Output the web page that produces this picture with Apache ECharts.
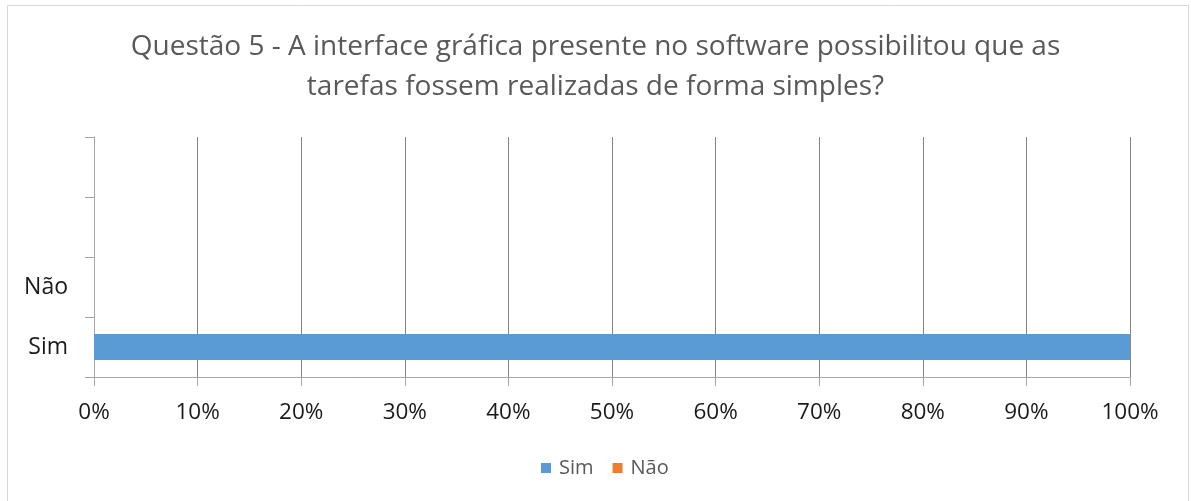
<!DOCTYPE html>
<html>
<head>
<meta charset="utf-8">
<script src="https://cdn.jsdelivr.net/npm/echarts@6/dist/echarts.min.js"></script>
<style>
html,body{margin:0;padding:0;background:#fff;}
#c{width:1191px;height:501px;}
</style>
</head>
<body>
<div id="c"></div>
<script>
const categories = ['Sim', 'Não', '', ''];
const simValues = [1, null, null, null];
const naoValues = [null, 0, null, null];
const titleText = 'Questão 5 - A interface gráfica presente no software possibilitou que as\ntarefas fossem realizadas de forma simples?';

const font = '"Open Sans", Lato, sans-serif';
const chart = echarts.init(document.getElementById('c'));
chart.setOption({
  animation: false,
  textStyle: { fontFamily: font },
  graphic: [{
    type: 'rect',
    shape: { x: 7.5, y: 5.5, width: 1181, height: 510 },
    style: { fill: 'none', stroke: '#d9d9d9', lineWidth: 1 },
    silent: true
  }],
  title: {
    text: titleText,
    left: 'center',
    top: 22,
    textStyle: { fontFamily: font, fontSize: 28, fontWeight: 'normal', color: '#595959', lineHeight: 40 }
  },
  legend: {
    data: ['Sim', 'Não'],
    left: 536,
    top: 453,
    icon: 'rect',
    itemWidth: 10,
    itemHeight: 10,
    itemGap: 19,
    textStyle: { fontFamily: font, fontSize: 20, color: '#595959', padding: [0, 0, 0, 3] }
  },
  grid: { left: 94, right: 61, top: 137, bottom: 124, containLabel: false },
  xAxis: {
    type: 'value',
    min: 0,
    max: 1,
    interval: 0.1,
    axisLine: { show: true, lineStyle: { color: '#a6a6a6', width: 1 } },
    axisTick: { show: true, length: 9, lineStyle: { color: '#a6a6a6' } },
    splitLine: { show: true, lineStyle: { color: '#868686', width: 1 } },
    axisLabel: {
      margin: 24,
      fontFamily: font, fontSize: 22.5, color: '#1a1a1a',
      formatter: v => Math.round(v * 100) + '%'
    }
  },
  yAxis: {
    type: 'category',
    data: categories,
    axisLine: { show: true, lineStyle: { color: '#a6a6a6', width: 1 } },
    axisTick: { show: true, length: 9, lineStyle: { color: '#a6a6a6' } },
    axisLabel: { margin: 26, fontFamily: font, fontSize: 23, color: '#1a1a1a' }
  },
  series: [
    { name: 'Sim', type: 'bar', stack: 's', data: simValues, barWidth: 26, itemStyle: { color: '#5b9bd5' } },
    { name: 'Não', type: 'bar', stack: 's', data: naoValues, barWidth: 26, itemStyle: { color: '#ed7d31' } }
  ]
});
</script>
</body>
</html>
